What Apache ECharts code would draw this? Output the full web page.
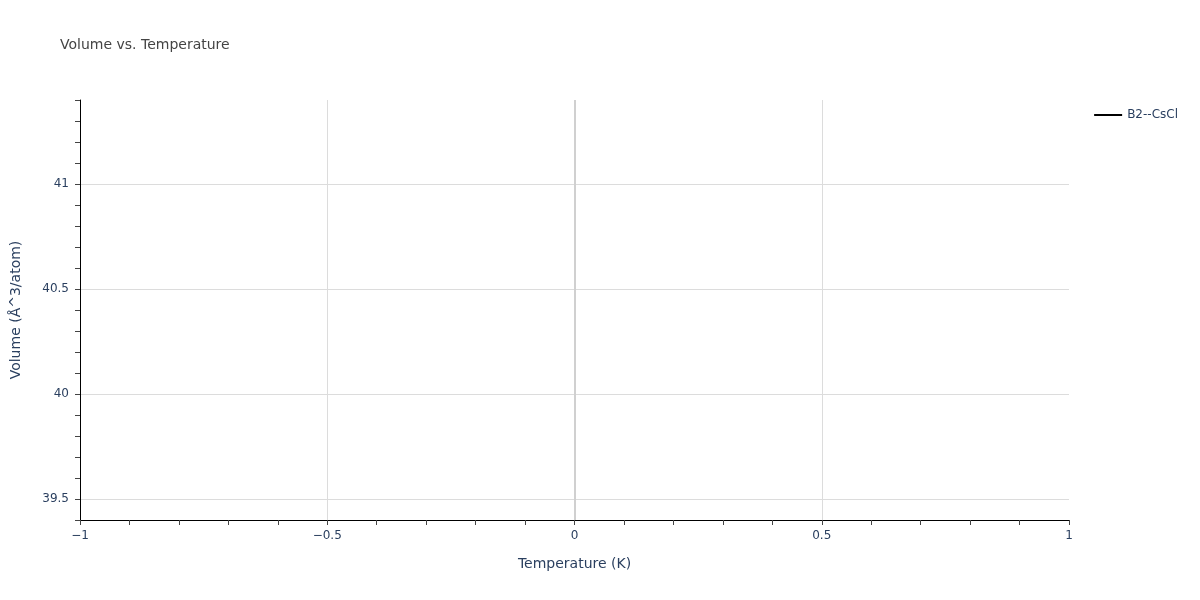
<!DOCTYPE html>
<html>
<head>
<meta charset="utf-8">
<script src="https://cdn.jsdelivr.net/npm/echarts@6/dist/echarts.min.js"></script>
<style>html,body{margin:0;padding:0;background:#fff}#c{width:1200px;height:600px}</style>
</head>
<body>
<div id="c"></div>
<script>
const seriesName = 'B2--CsCl';
const temperature = [0];
const volume = [40.39];
const xTickValues = [-1, -0.5, 0, 0.5, 1];
const xTickLabels = ['\u22121', '\u22120.5', '0', '0.5', '1'];
const yTickValues = [39.5, 40, 40.5, 41];
const yTickLabels = ['39.5', '40', '40.5', '41'];

const data = temperature.map((t, i) => [t, volume[i]]);
const txt = '#2a3f5f';
const font = '"DejaVu Sans", Verdana, sans-serif';
const xMin = -1, xMax = 1, yMin = 39.4, yMax = 41.4;
const lookup = (vals, labs) => v => {
  const i = vals.findIndex(t => Math.abs(t - v) < 1e-6);
  return i >= 0 ? labs[i] : '';
};
const xLab = lookup(xTickValues, xTickLabels);
const yLab = lookup(yTickValues, yTickLabels);
const xInnerGrid = xTickValues.filter(v => v > xMin && v < xMax && v !== 0);

const gridLine = { show: true, lineStyle: { color: '#dcdcdc', width: 1 } };
const black = { show: true, onZero: false, lineStyle: { color: '#000', width: 1 } };
const tick = { show: true, length: 5, lineStyle: { color: '#444' } };

const chart = echarts.init(document.getElementById('c'));
chart.setOption({
  animation: false,
  textStyle: { fontFamily: font },
  title: {
    text: 'Volume vs. Temperature',
    left: 55, top: 33,
    textStyle: { fontFamily: font, fontSize: 14, fontWeight: 'normal', color: '#444' }
  },
  legend: {
    data: [{ name: seriesName, icon: 'rect' }],
    right: 17, top: 104,
    itemWidth: 28, itemHeight: 2, itemGap: 7,
    textStyle: { fontFamily: font, fontSize: 12, color: txt }
  },
  grid: { left: 80, right: 131, top: 100, bottom: 80, outerBoundsMode: 'none', containLabel: false },
  xAxis: [{
    type: 'value', min: xMin, max: xMax, interval: 0.1,
    axisLine: black, axisTick: tick,
    axisLabel: { show: false }, splitLine: { show: false }
  }, {
    type: 'value', min: xMin, max: xMax, position: 'bottom',
    name: 'Temperature (K)', nameLocation: 'middle', nameGap: 37,
    nameTextStyle: { fontFamily: font, fontSize: 14, color: txt },
    axisLine: black,
    axisTick: { show: false, customValues: xInnerGrid },
    axisLabel: { formatter: xLab, color: txt, fontSize: 12, margin: 10, customValues: xTickValues },
    splitLine: gridLine
  }],
  yAxis: [{
    type: 'value', min: yMin, max: yMax, interval: 0.1,
    axisLine: black, axisTick: tick,
    axisLabel: { show: false }, splitLine: { show: false }
  }, {
    type: 'value', min: yMin, max: yMax, position: 'left',
    name: 'Volume (Å^3/atom)', nameLocation: 'middle', nameGap: 57,
    nameTextStyle: { fontFamily: font, fontSize: 14, color: txt },
    axisLine: { show: false },
    axisTick: { show: false, customValues: yTickValues },
    axisLabel: { formatter: yLab, color: txt, fontSize: 12, margin: 11, customValues: yTickValues },
    splitLine: gridLine
  }],
  series: [{
    name: seriesName,
    type: 'line',
    xAxisIndex: 0, yAxisIndex: 0,
    data: data,
    symbol: 'none',
    lineStyle: { color: '#000', width: 2 },
    itemStyle: { color: '#000' },
    markLine: {
      silent: true, symbol: 'none', label: { show: false },
      lineStyle: { color: '#d0d0d0', width: 2, type: 'solid' },
      data: [{ xAxis: temperature[0] }]
    }
  }]
});
</script>
</body>
</html>
